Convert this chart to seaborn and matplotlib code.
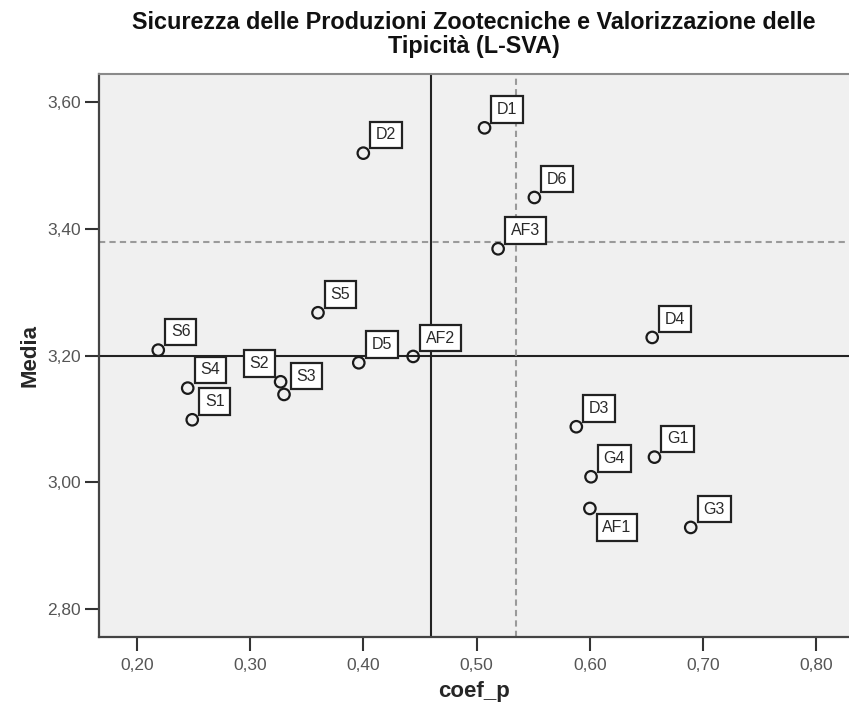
import matplotlib
matplotlib.use("Agg")
import matplotlib.pyplot as plt
import seaborn as sns
import pandas as pd

# Item codes with their coefficient and mean score
names = ["D1", "D6", "AF3", "D2", "S5", "S6", "S4", "S1", "S2",
         "S3", "D5", "AF2", "D4", "D3", "G1", "G4", "AF1", "G3"]
coef_p = [0.507, 0.551, 0.519, 0.400, 0.360, 0.219, 0.245, 0.249, 0.327,
          0.330, 0.396, 0.444, 0.655, 0.588, 0.657, 0.601, 0.600, 0.689]
media = [3.560, 3.450, 3.369, 3.520, 3.268, 3.209, 3.149, 3.099, 3.159,
         3.139, 3.189, 3.199, 3.229, 3.088, 3.040, 3.009, 2.959, 2.929]

# Reference lines: overall means (solid) and cut-off values (dashed)
mean_x, mean_y = 0.46, 3.20
cut_x, cut_y = 0.535, 3.38

x_ticks = [0.20, 0.30, 0.40, 0.50, 0.60, 0.70, 0.80]
y_ticks = [2.80, 3.00, 3.20, 3.40, 3.60]

df = pd.DataFrame({"label": names, "coef_p": coef_p, "Media": media})

sns.set_style("white")
plt.rcParams["font.family"] = ["Liberation Sans", "DejaVu Sans"]

fig = plt.figure(figsize=(8.49, 7.09), dpi=100)
ax = fig.add_axes([99 / 849, 1 - 637 / 709, 1 - 99 / 849, (637 - 74) / 709])
ax.set_facecolor("#f0f0f0")

ax.axvline(mean_x, color="#222222", lw=1.5, zorder=1)
ax.axhline(mean_y, color="#222222", lw=1.5, zorder=1)
ax.axvline(cut_x, color="#9a9a9a", lw=1.5, dashes=(3, 2), zorder=1)
ax.axhline(cut_y, color="#9a9a9a", lw=1.5, dashes=(3, 2), zorder=1)

sns.scatterplot(data=df, x="coef_p", y="Media", ax=ax, marker="o", s=68,
                facecolor="none", edgecolor="#1a1a1a", linewidth=1.6,
                zorder=3, legend=False)

# Box placement relative to the point: upper-right by default
placement = {"S2": "ul", "AF1": "lr"}
fs = 11.5
pad = 0.36
padpt = pad * fs
for n, x, y in zip(names, coef_p, media):
    where = placement.get(n, "ur")
    if where == "ur":
        xy, ha, va = (5.0 + padpt, 3.6 + padpt), "left", "bottom"
    elif where == "ul":
        xy, ha, va = (-4.1 - padpt, 3.8 + padpt), "right", "bottom"
    else:
        xy, ha, va = (4.8 + padpt, -4.3 - padpt), "left", "top"
    ax.annotate(n, (x, y), xytext=xy, textcoords="offset points",
                ha=ha, va=va, fontsize=fs, color="#2a2a2a", zorder=5,
                bbox=dict(boxstyle=f"square,pad={pad}", fc="white",
                          ec="#222222", lw=1.6))

ax.set_xlim(0.1667, 0.8287)
ax.set_ylim(2.756, 3.645)
ax.set_xticks(x_ticks)
ax.set_yticks(y_ticks)
ax.set_xticklabels([f"{v:.2f}".replace(".", ",") for v in x_ticks])
ax.set_yticklabels([f"{v:.2f}".replace(".", ",") for v in y_ticks])
ax.tick_params(axis="both", direction="out", length=10, width=1.5,
               color="#333333", labelsize=12.5, labelcolor="#555555", pad=3,
               bottom=True, left=True)
ax.tick_params(axis="x", pad=5)

for side in ["left", "bottom"]:
    ax.spines[side].set_color("#444444")
    ax.spines[side].set_linewidth(1.6)
ax.spines["top"].set_color("#8a8a8a")
ax.spines["top"].set_linewidth(1.5)
ax.spines["right"].set_visible(False)

ax.set_xlabel("coef_p", fontsize=16, fontweight="bold", labelpad=6)
ax.set_ylabel("Media", fontsize=16, fontweight="bold", labelpad=5)
ax.set_title("Sicurezza delle Produzioni Zootecniche e Valorizzazione delle\n"
             "Tipicità (L-SVA)", fontsize=16.8, fontweight="bold", pad=15,
             linespacing=1.05, color="#111111")

fig.savefig("out.png", dpi=100)
